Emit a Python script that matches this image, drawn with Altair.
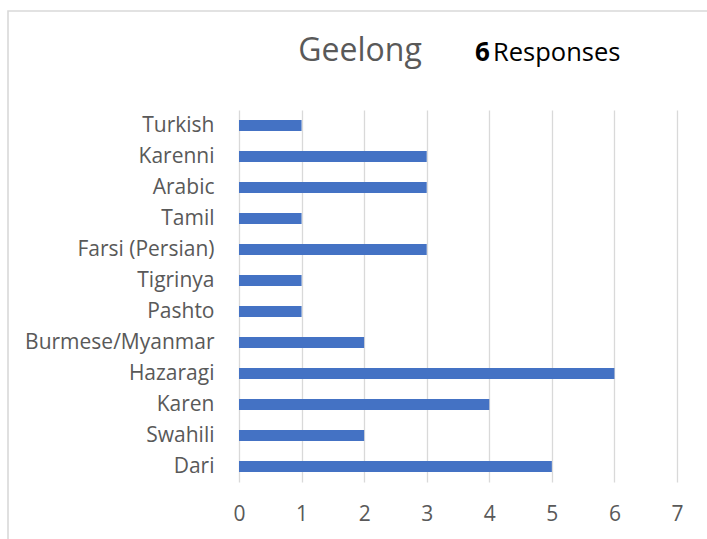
import altair as alt
import pandas as pd

languages = ["Turkish", "Karenni", "Arabic", "Tamil", "Farsi (Persian)", "Tigrinya",
             "Pashto", "Burmese/Myanmar", "Hazaragi", "Karen", "Swahili", "Dari"]
counts = [1, 3, 3, 1, 3, 1, 1, 2, 6, 4, 2, 5]
x_ticks = [0, 1, 2, 3, 4, 5, 6, 7]
title_text = "Geelong"
responses_num = "6"
responses_text = "Responses"

df = pd.DataFrame({"language": languages, "count": counts})

FONT = "Open Sans"
GREY = "#595959"

bars = alt.Chart(df).mark_bar(color="#4472C4").encode(
    x=alt.X("count:Q",
            scale=alt.Scale(domain=[0, 7], nice=False),
            axis=alt.Axis(values=x_ticks, title=None, grid=True, gridColor="#d9d9d9",
                          gridWidth=1.3, ticks=False, domain=False, labelFontSize=21,
                          labelFont=FONT, labelColor=GREY, labelPadding=21,
                          labelFlush=False, format="d")),
    y=alt.Y("language:N", sort=languages,
            scale=alt.Scale(paddingInner=0.65, paddingOuter=0.325),
            axis=alt.Axis(title=None, ticks=False, domain=False, grid=False,
                          labelFontSize=21, labelFont=FONT, labelColor=GREY,
                          labelPadding=25, labelLimit=400)),
)

title = alt.Chart(pd.DataFrame({"t": [title_text]})).mark_text(
    font=FONT, fontSize=32, color=GREY, align="center", baseline="alphabetic"
).encode(text="t:N", x=alt.value(121), y=alt.value(-49))

num = alt.Chart(pd.DataFrame({"t": [responses_num]})).mark_text(
    font=FONT, fontSize=26, fontWeight="bold", color="#000000", align="left", baseline="alphabetic"
).encode(text="t:N", x=alt.value(236), y=alt.value(-49))

resp = alt.Chart(pd.DataFrame({"t": [responses_text]})).mark_text(
    font=FONT, fontSize=25.5, color="#000000", align="left", baseline="alphabetic"
).encode(text="t:N", x=alt.value(254), y=alt.value(-49))

border = alt.Chart(pd.DataFrame({"a": [0]})).mark_rect(
    filled=False, stroke="#d9d9d9", strokeWidth=1.6
).encode(x=alt.value(-231), x2=alt.value(480), y=alt.value(-99), y2=alt.value(440))

chart = alt.layer(border, bars, title, num, resp).properties(
    width=438, height=372,
    autosize=alt.AutoSizeParams(type="none"),
    padding={"left": 239, "top": 110, "right": 30, "bottom": 57},
    background="white",
).configure_view(stroke=None)

chart.save("out.html", embed_options={"renderer": "svg", "actions": False})
